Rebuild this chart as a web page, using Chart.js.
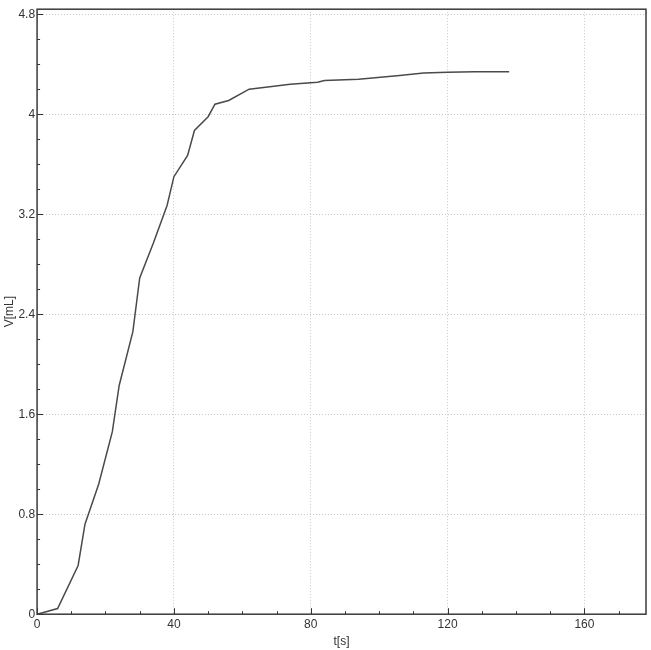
<!DOCTYPE html>
<html>
<head>
<meta charset="utf-8">
<script src="https://cdn.jsdelivr.net/npm/chart.js@4"></script>
<style>
  html, body { margin: 0; padding: 0; background: #fff; }
  #wrap { width: 651px; height: 650px; }
</style>
</head>
<body>
<div id="wrap"><canvas id="volumeChart"></canvas></div>
<script>
// time [s] and volume [mL]
const timeS = [0, 6, 12, 14, 18, 22, 24, 28, 30, 34, 38, 40, 44, 46, 50, 52, 56, 62, 68, 74, 82, 84, 94, 106, 113, 120, 128, 138];
const volumeML = [0, 0.045, 0.39, 0.72, 1.04, 1.46, 1.83, 2.26, 2.69, 2.97, 3.27, 3.5, 3.67, 3.87, 3.98, 4.08, 4.11, 4.2, 4.22, 4.24, 4.255, 4.27, 4.28, 4.31, 4.33, 4.335, 4.34, 4.34];
const xMajor = 40, xMinor = 10, xMax = 178;
const yMajor = 0.8, yMinor = 0.2, yMax = 4.84;

const isMultiple = (v, step) => Math.abs(v / step - Math.round(v / step)) < 1e-6;
const stepTicks = (max, step) => {
    const out = [];
    for (let i = 0; i * step <= max + 1e-9; i++) out.push({ value: +(i * step).toFixed(6) });
    return out;
};

// inner tick marks + frame round the plot area
const framePlugin = {
    id: 'frame',
    afterDraw(chart) {
        const { ctx, chartArea: a, scales } = chart;
        ctx.save();
        ctx.strokeStyle = '#333';
        ctx.lineWidth = 1;
        scales.x.ticks.forEach(t => {
            const px = Math.round(scales.x.getPixelForValue(t.value)) + 0.5;
            const len = isMultiple(t.value, xMajor) ? 6 : 3;
            ctx.beginPath();
            ctx.moveTo(px, a.bottom);
            ctx.lineTo(px, a.bottom - len);
            ctx.stroke();
        });
        scales.y.ticks.forEach(t => {
            const py = Math.round(scales.y.getPixelForValue(t.value)) + 0.5;
            const len = isMultiple(t.value, yMajor) ? 6 : 3;
            ctx.beginPath();
            ctx.moveTo(a.left, py);
            ctx.lineTo(a.left + len, py);
            ctx.stroke();
        });
        ctx.lineWidth = 1.5;
        ctx.strokeStyle = '#3a3a3a';
        ctx.strokeRect(a.left, a.top, a.right - a.left, a.bottom - a.top);
        ctx.restore();
    }
};

const tickFont = { family: 'Liberation Sans', size: 12 };

const ctx = document.getElementById('volumeChart');
new Chart(ctx, {
    type: 'line',
    data: {
        datasets: [{
            data: timeS.map((t, i) => ({ x: t, y: volumeML[i] })),
            borderColor: '#4a4a4a',
            borderWidth: 1.5,
            pointRadius: 0,
            fill: false,
            tension: 0
        }]
    },
    options: {
        responsive: true,
        maintainAspectRatio: false,
        animation: false,
        layout: { padding: { top: -10, right: 5, left: 2, bottom: 1 } },
        plugins: { legend: { display: false }, tooltip: { enabled: false } },
        scales: {
            x: {
                type: 'linear',
                min: 0,
                max: xMax,
                afterBuildTicks: s => { s.ticks = stepTicks(xMax, xMinor); },
                ticks: {
                    autoSkip: false,
                    maxRotation: 0,
                    color: '#333',
                    font: tickFont,
                    padding: 3,
                    callback: v => isMultiple(v, xMajor) ? v : ''
                },
                grid: {
                    drawTicks: false,
                    color: c => (c.tick && isMultiple(c.tick.value, xMajor) && c.tick.value > 0) ? '#c8c8c8' : 'rgba(0,0,0,0)',
                    lineWidth: 1
                },
                border: { display: false, dash: [1, 2] },
                title: {
                    display: true,
                    text: 't[s]',
                    color: '#333',
                    font: tickFont,
                    padding: { top: 0, bottom: 0 }
                }
            },
            y: {
                type: 'linear',
                min: 0,
                max: yMax,
                afterBuildTicks: s => { s.ticks = stepTicks(yMax, yMinor); },
                ticks: {
                    autoSkip: false,
                    color: '#333',
                    font: tickFont,
                    padding: 2,
                    callback: v => isMultiple(v, yMajor) ? +v.toFixed(1) : ''
                },
                grid: {
                    drawTicks: false,
                    color: c => (c.tick && isMultiple(c.tick.value, yMajor) && c.tick.value > 0) ? '#c8c8c8' : 'rgba(0,0,0,0)',
                    lineWidth: 1
                },
                border: { display: false, dash: [1, 2] },
                title: {
                    display: true,
                    text: 'V[mL]',
                    color: '#333',
                    font: tickFont,
                    padding: { top: 0, bottom: 0 }
                }
            }
        }
    },
    plugins: [framePlugin]
});
</script>
</body>
</html>
